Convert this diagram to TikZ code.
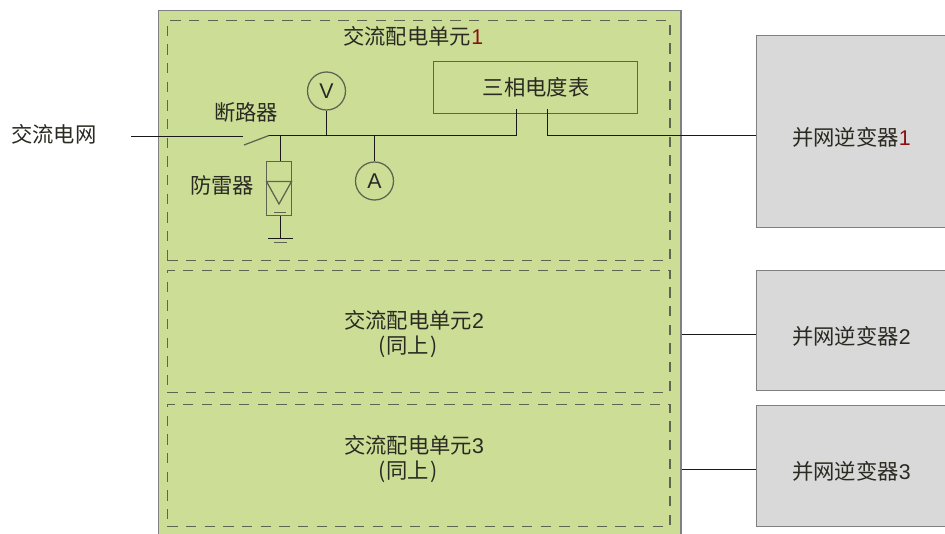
\documentclass[tikz,border=0pt]{standalone}
\usepackage{fontspec}
\setmainfont{Liberation Sans}
\newfontfamily\cjk{Noto Sans CJK SC}
\definecolor{panelgreen}{HTML}{CCDE96}
\definecolor{invgray}{HTML}{D9D9D9}
\definecolor{edgegray}{HTML}{5F6352}
\definecolor{inkdark}{HTML}{2A2A22}
\definecolor{digitred}{HTML}{8A1010}
\tikzset{
  txt/.style={font=\cjk\fontsize{16}{19}\selectfont,text=inkdark,inner sep=0pt,align=center},
  wire/.style={draw=black!90,line width=0.85pt},
  unitbox/.style={draw=edgegray,dash pattern=on 7.8pt off 6.2pt,line width=1.2pt},
  invbox/.style={draw=gray,fill=invgray,line width=0.9pt},
  thin part/.style={draw=edgegray,line width=0.95pt},
  meter/.style={circle,draw=edgegray,line width=0.95pt,minimum size=28.5pt,inner sep=0pt,font=\fontsize{16}{18}\selectfont,text=inkdark}
}
\begin{document}
\begin{tikzpicture}[x=0.75pt,y=-0.75pt]
\useasboundingbox (0,0) rectangle (945,534);
\clip (0,0) rectangle (945,534);
% main panel
\node[draw=gray,fill=panelgreen,line width=1pt,minimum width=392pt,minimum height=393pt,inner sep=0pt,anchor=north west] (panel) at (157.6,10) {};
% dashed units
\node[unitbox,minimum width=377pt,minimum height=180pt,inner sep=0pt,anchor=north west] (u1) at (166.6,19.6) {};
\node[unitbox,minimum width=377pt,minimum height=91.5pt,inner sep=0pt,anchor=north west] (u2) at (166.6,269.6) {};
\node[unitbox,minimum width=377pt,minimum height=91.5pt,inner sep=0pt,anchor=north west] (u3) at (166.6,403.6) {};
% inverters
\node[invbox,minimum width=150pt,minimum height=144pt,inner sep=0pt,anchor=north west] (inv1) at (755.6,34.6) {};
\node[invbox,minimum width=150pt,minimum height=90pt,inner sep=0pt,anchor=north west] (inv2) at (755.6,269.6) {};
\node[invbox,minimum width=150pt,minimum height=91pt,inner sep=0pt,anchor=north west] (inv3) at (755.6,404.6) {};
% meter
\node[thin part,minimum width=153pt,minimum height=39pt,inner sep=0pt,anchor=north west] (kwh) at (432.6,60.6) {};
\node[txt] (kwhlabel) at (536,87.5) {三相电度表};
% labels
\node[txt,anchor=west] (grid) at (11,134.5) {交流电网};
\node[txt,anchor=west] (brk) at (214,112) {断路器};
\node[txt,anchor=west] (spd) at (190,185.5) {防雷器};
\node[txt,anchor=west] (t1) at (343,36) {交流配电单元\textcolor{digitred}{\rmfamily 1}};
\node[txt] (t2) at (414,320) {交流配电单元{\rmfamily 2}};
\node[txt] (t2b) at (408,346.5) {({\kern1pt}同上{\kern1pt})};
\node[txt] (t3) at (414,445) {交流配电单元{\rmfamily 3}};
\node[txt] (t3b) at (408,472) {({\kern1pt}同上{\kern1pt})};
\node[txt,anchor=west] (i1) at (792,137) {并网逆变器\textcolor{digitred}{\rmfamily 1}};
\node[txt,anchor=west] (i2) at (792,336) {并网逆变器{\rmfamily 2}};
\node[txt,anchor=west] (i3) at (792,471) {并网逆变器{\rmfamily 3}};
% instruments
\node[meter] (V) at (326.5,91) {V};
\node[meter] (A) at (374.5,181) {A};
% arrester body
\node[thin part,minimum width=18.75pt,minimum height=40.5pt,inner sep=0pt,anchor=north west] (spdbox) at (266,161) {};
\coordinate (triL) at (266.5,181.5);
\coordinate (triR) at (291.5,181.5);
\coordinate (triB) at (279,204);
\draw[thin part] (triL) -- (triR) -- (triB) -- cycle;
\coordinate (barL) at (274,212.5);
\coordinate (barR) at (286,212.5);
\draw[thin part,line width=1.2pt] (barL) -- (barR);
% free connector ends
\coordinate (gridend) at (131,136.5);
\coordinate (swL) at (243,136.5);
\coordinate (swA) at (244,145);
\coordinate (swB) at (269,135.5);
\coordinate (tapS) at (280.5,135.5);
\coordinate (tapV) at (326.5,135.5);
\coordinate (tapA) at (374.5,135.5);
\coordinate (kwhIn) at (516.5,109);
\coordinate (kwhOut) at (547.5,109);
\coordinate (busEnd) at (516.5,135.5);
\coordinate (outBend) at (547.5,135.5);
\coordinate (g1L) at (268,238.5);
\coordinate (g1R) at (293,238.5);
\coordinate (g2L) at (274,242.5);
\coordinate (g2R) at (287,242.5);
\coordinate (gTop) at (280.5,238.5);
\coordinate (inv2in) at ([yshift=-3pt]inv2.west);
\coordinate (inv3in) at ([yshift=-2.8pt]inv3.west);
% wires
\draw[wire] (gridend) -- (swL);
\draw[thin part] (swA) -- (swB);
\draw[wire] (swB) -- (busEnd) -- (kwhIn);
\draw[wire] (kwhOut) -- (outBend) -- (outBend -| inv1.west);
\draw[wire] (tapS) -- (tapS |- spdbox.north);
\draw[wire] (tapV) -- (V.south);
\draw[wire] (tapA) -- (A.north);
\draw[wire] (gTop |- spdbox.south) -- (gTop);
\draw[wire] (g1L) -- (g1R);
\draw[thin part,line width=1.3pt] (g2L) -- (g2R);
\draw[wire] (panel.east |- inv2in) -- (inv2in);
\draw[wire] (panel.east |- inv3in) -- (inv3in);
\end{tikzpicture}
\end{document}
